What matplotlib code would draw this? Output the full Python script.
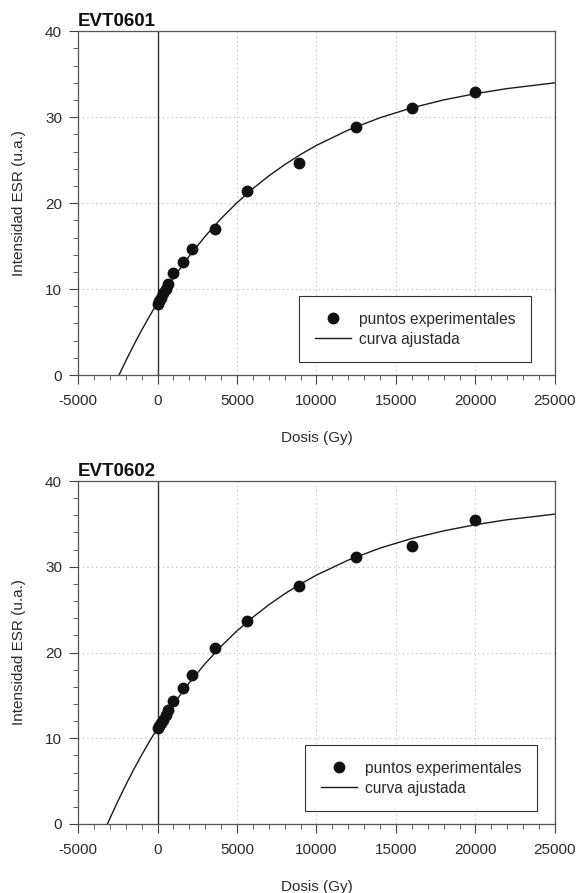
import matplotlib
matplotlib.use("Agg")
import matplotlib.pyplot as plt
from matplotlib.ticker import MultipleLocator

plt.rcParams['font.family'] = ['Liberation Sans', 'DejaVu Sans']
plt.rcParams['axes.unicode_minus'] = False

# puntos experimentales
dose = [0, 120, 250, 370, 510, 660, 1000, 1600, 2200, 3600, 5600, 8900, 12500, 16000, 20000]
esr_601 = [8.26, 8.6, 9.0, 9.5, 10.05, 10.55, 11.86, 13.15, 14.7, 17.0, 21.47, 24.65, 28.87, 31.12, 32.9]
esr_602 = [11.16, 11.43, 11.74, 12.13, 12.71, 13.3, 14.38, 15.9, 17.34, 20.5, 23.71, 27.76, 31.1, 32.42, 35.45]

# curvas ajustadas
fit_dose_601 = [-2420, -2000, -1500, -1000, -500, 0, 1000, 2000, 3000, 4000, 5000, 6000, 7000, 8000, 9000,
                10000, 12000, 14000, 16000, 18000, 20000, 22000, 25000]
fit_601 = [0, 1.63, 3.47, 5.21, 6.86, 8.42, 11.29, 13.85, 16.15, 18.21, 20.05, 21.69, 23.17, 24.48, 25.66,
           26.72, 28.51, 29.94, 31.09, 32.01, 32.74, 33.33, 34.0]
fit_dose_602 = [-3150, -3000, -2500, -2000, -1500, -1000, -500, 0, 1000, 2000, 3000, 4000, 5000, 6000, 7000,
                8000, 9000, 10000, 12000, 14000, 16000, 18000, 20000, 22000, 25000]
fit_602 = [0, 0.62, 2.63, 4.54, 6.34, 8.03, 9.65, 11.16, 13.96, 16.47, 18.71, 20.72, 22.52, 24.12, 25.56,
           26.85, 28.0, 29.03, 30.78, 32.18, 33.30, 34.19, 34.91, 35.49, 36.14]

titles = ["EVT0601", "EVT0602"]

txt = '#2a2a2a'

fig = plt.figure(figsize=(5.78, 8.93), dpi=100)
ax1 = fig.add_axes([0.135, 0.580, 0.825, 0.385])
ax2 = fig.add_axes([0.135, 0.0773, 0.825, 0.384])


def draw(ax, title, esr, fd, fv, legx):
    ax.set_axisbelow(True)
    ax.grid(True, linestyle=(0, (1, 3)), color='#b8b8b8', linewidth=0.8)
    ax.axvline(0, color='#333333', linewidth=1.0, zorder=1.5)
    ax.plot(dose, esr, 'o', color='#111111', markersize=7.5, linestyle='none',
            label='puntos experimentales', zorder=3)
    ax.plot(fd, fv, '-', color='#1a1a1a', linewidth=1.0, label='curva ajustada', zorder=2)
    ax.set_xlim(-5000, 25000)
    ax.set_ylim(0, 40)
    ax.xaxis.set_major_locator(MultipleLocator(5000))
    ax.xaxis.set_minor_locator(MultipleLocator(1000))
    ax.yaxis.set_major_locator(MultipleLocator(10))
    ax.yaxis.set_minor_locator(MultipleLocator(2))
    ax.tick_params(which='both', direction='out', colors='#444444', labelcolor=txt, labelsize=11)
    ax.tick_params(axis='x', which='major', length=6.5, pad=7)
    ax.tick_params(axis='y', which='major', length=6.5, pad=5)
    ax.tick_params(which='minor', length=3.5)
    for s in ax.spines.values():
        s.set_color('#555555')
        s.set_linewidth(0.9)
    ax.set_xlabel("Dosis (Gy)", fontsize=11, color=txt)
    ax.set_ylabel("Intensidad ESR (u.a.)", fontsize=11, color=txt)
    ax.xaxis.set_label_coords(0.5, -0.163)
    ax.yaxis.set_label_coords(-0.11, 0.5)
    ax.set_title(title, loc='left', fontweight='bold', fontsize=13.5, pad=4, color='#111111')
    leg = ax.legend(loc='upper left', bbox_to_anchor=(legx, 0.23), fancybox=False,
                    edgecolor='#333333', framealpha=1, borderpad=1.0, labelspacing=0.33,
                    handlelength=2.3, handletextpad=0.55, borderaxespad=0, numpoints=1,
                    fontsize=11.2)
    leg.get_frame().set_linewidth(0.8)
    for t in leg.get_texts():
        t.set_color(txt)


draw(ax1, titles[0], esr_601, fit_dose_601, fit_601, 0.464)
draw(ax2, titles[1], esr_602, fit_dose_602, fit_602, 0.4765)

fig.savefig("out.png", dpi=100)
